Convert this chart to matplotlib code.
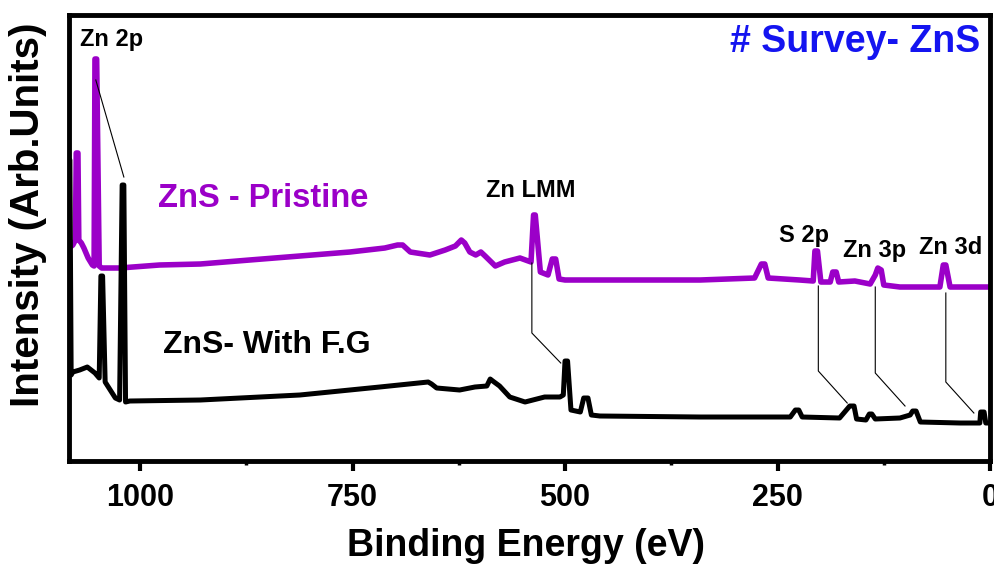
import matplotlib
matplotlib.use("Agg")
import matplotlib.pyplot as plt
from matplotlib.ticker import MultipleLocator

plt.rcParams["font.family"] = ["Liberation Sans", "DejaVu Sans"]
plt.rcParams["font.weight"] = "bold"

# ZnS pristine (purple), binding energy (eV) / intensity (arb.)
pristine_be = [1082, 1079, 1076, 1075, 1073, 1072, 1069, 1066, 1061, 1056, 1054,
               1053, 1051, 1048, 1045, 1024, 977, 929, 871, 812, 753, 712, 697,
               691, 682, 659, 641, 629, 622, 618, 612, 605, 599, 594, 582, 571,
               553, 540, 537, 535, 529, 520, 515, 511, 507, 500, 400, 341, 277,
               269, 265, 261, 224, 208, 206, 203, 199, 188, 185, 181, 178, 159,
               141, 135, 132, 128, 125, 106, 59, 55, 52, 47, 0]
pristine_int = [214, 216, 221, 308, 308, 221, 218, 213, 203, 196, 195,
                402, 402, 195, 193, 193, 196, 197, 201, 205, 209, 213, 216,
                216, 209, 206, 211, 215, 221, 218, 209, 206, 209, 205, 195, 199,
                203, 199, 246, 246, 189, 186, 202, 202, 182, 181, 181, 181, 183,
                197, 197, 183, 181, 180, 210, 210, 179, 179, 189, 189, 179, 180,
                177, 186, 193, 191, 176, 174, 174, 196, 196, 174, 174]

# ZnS with F.G (black)
fg_be = [1083, 1082.5, 1081, 1079, 1071, 1062, 1053, 1048, 1046, 1044, 1041, 1035,
         1029, 1024, 1021, 1019, 1017, 1012, 929, 812, 718, 661, 657, 651, 624,
         606, 592, 588, 585, 577, 565, 547, 524, 506, 502, 500, 497, 493, 482,
         478, 473, 469, 459, 341, 235, 229, 225, 221, 177, 165, 160, 157, 146,
         142, 139, 135, 106, 94, 91, 87, 82, 35, 12, 11, 7, 5, 0]
fg_int = [301, 301, 86, 89, 91, 94, 88, 83, 185, 185, 79, 71,
          63, 61, 276, 276, 59, 60, 61, 66, 74, 79, 77, 73, 71,
          74, 75, 82, 80, 75, 64, 59, 64, 64, 66, 100, 100, 51, 49,
          63, 63, 46, 45, 44, 44, 51, 51, 44, 43, 55, 55, 42, 41,
          47, 47, 42, 43, 46, 50, 50, 39, 38, 38, 49, 49, 38, 38]

# peak labels: text, position, leader line points
peak_labels = ["Zn 2p", "Zn LMM", "S 2p", "Zn 3p", "Zn 3d"]
label_be = [1033, 540, 219, 136, 46]
label_int = [421, 271, 226, 211, 214]
leader_be = [[1052, 1019], [539, 539, 505], [202, 202, 168], [135, 135, 100], [52, 52, 19]]
leader_int = [[381, 284], [198, 128, 98], [175, 90, 58], [174, 88, 55], [168, 79, 48]]

purple = "#9B00C8"

fig = plt.figure(figsize=(9.95, 5.66), dpi=100)
ax = fig.add_axes([0.0698, 0.1855, 0.9252, 0.788])

ax.plot(pristine_be, pristine_int, color=purple, lw=4, solid_joinstyle="round")
ax.plot(fg_be, fg_int, color="black", lw=3.6, solid_joinstyle="round")

for name, bx, by, lx, ly in zip(peak_labels, label_be, label_int, leader_be, leader_int):
    ax.text(bx, by, name, ha="center", va="center", fontsize=17, fontweight="bold")
    ax.plot(lx, ly, color="black", lw=0.8)

ax.text(979, 263, "ZnS - Pristine", color=purple, fontsize=23.5, fontweight="bold",
        ha="left", va="center")
ax.text(973, 116, "ZnS- With F.G", color="black", fontsize=23, fontweight="bold",
        ha="left", va="center")
ax.text(12, 419, "# Survey- ZnS", color="#1414F0", fontsize=27, fontweight="bold",
        ha="right", va="center")

ax.set_xlim(1083, 0)
ax.set_ylim(0, 446)
ax.xaxis.set_major_locator(MultipleLocator(250))
ax.xaxis.set_minor_locator(MultipleLocator(125))
ax.set_yticks([])
ax.tick_params(axis="x", which="major", direction="out", length=7, width=3,
               labelsize=22, pad=9)
ax.tick_params(axis="x", which="minor", direction="out", length=3, width=2.5)
for s in ax.spines.values():
    s.set_linewidth(3.5)

ax.set_xlabel("Binding Energy (eV)", fontsize=27, fontweight="bold", va="center")
ax.xaxis.set_label_coords(0.496, -0.19)
ax.set_ylabel("Intensity (Arb.Units)", fontsize=29, fontweight="bold", va="center")
ax.yaxis.set_label_coords(-0.045, 0.552)

fig.savefig("out.png", dpi=100)
